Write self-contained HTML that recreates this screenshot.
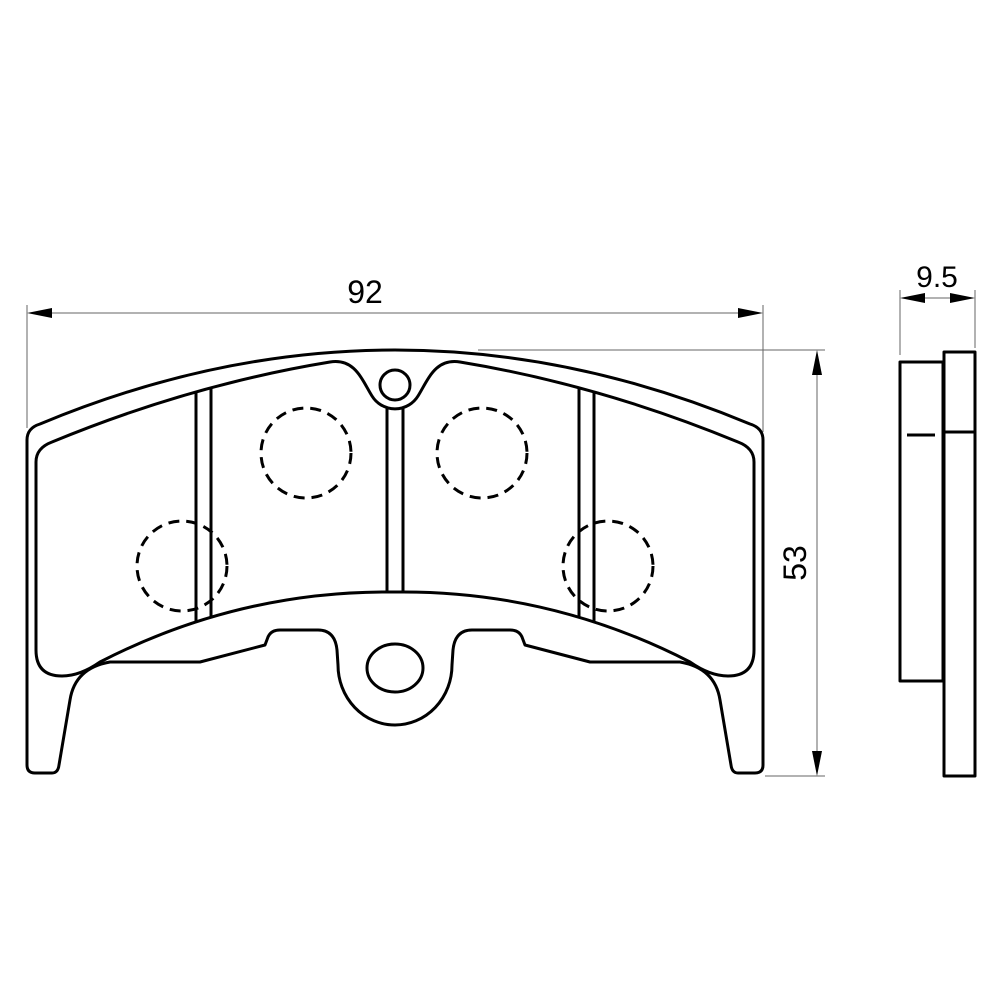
<!DOCTYPE html>
<html><head><style>html,body{margin:0;padding:0;background:#fff}</style></head>
<body>
<svg width="1000" height="1000" viewBox="0 0 1000 1000" xmlns="http://www.w3.org/2000/svg">
<defs>
<clipPath id="inn"><path d="M 36,462 Q 36,448 52,442 Q 190,385 330,362 C 355,358 362,380 372,396 A 27 27 0 0 0 418,396 C 428,380 435,358 460,362 Q 600,385 738,442 Q 754,448 754,462 L 754,650 Q 754,676 728,676 Q 710,676 690,662 Q 550,590 395,592 Q 240,590 100,662 Q 80,676 62,676 Q 36,676 36,650 Z"/></clipPath>
</defs>
<g fill="none" stroke="#000" stroke-width="3" stroke-linejoin="round">
<path d="M 27,440 Q 27,428 40,424 Q 395,276 750,424 Q 763,428 763,440 L 763,765 Q 763,773 755,773 L 738,773 Q 732,773 731,765 L 720,700 Q 715,668 680,662 L 590,662 L 525,645 L 522,637 Q 519,630 510,630 L 472,630 Q 455,630 453,650 L 452,665 A 57 60 0 0 1 338,665 L 337,650 Q 335,630 318,630 L 280,630 Q 271,630 268,637 L 265,645 L 200,662 L 110,662 Q 75,668 70,700 L 59,765 Q 58,773 52,773 L 35,773 Q 27,773 27,765 Z"/>
<path d="M 36,462 Q 36,448 52,442 Q 190,385 330,362 C 355,358 362,380 372,396 A 27 27 0 0 0 418,396 C 428,380 435,358 460,362 Q 600,385 738,442 Q 754,448 754,462 L 754,650 Q 754,676 728,676 Q 710,676 690,662 Q 550,590 395,592 Q 240,590 100,662 Q 80,676 62,676 Q 36,676 36,650 Z"/>
<circle cx="395" cy="385" r="15"/>
<g clip-path="url(#inn)">
<line x1="196" y1="360" x2="196" y2="640"/>
<line x1="211" y1="360" x2="211" y2="640"/>
<line x1="579" y1="360" x2="579" y2="640"/>
<line x1="594" y1="360" x2="594" y2="640"/>
<line x1="387" y1="400" x2="387" y2="600"/>
<line x1="403" y1="400" x2="403" y2="600"/>
</g>
<ellipse cx="395" cy="668" rx="28" ry="24"/>
<g stroke-dasharray="11,7">
<circle cx="306" cy="453" r="45"/>
<circle cx="482" cy="453" r="45"/>
<circle cx="182" cy="566" r="45"/>
<circle cx="608" cy="566" r="45"/>
</g>
<rect x="900" y="362" width="43" height="319"/>
<rect x="944" y="352" width="31" height="424"/>
<line x1="944" y1="432" x2="975" y2="432"/>
<line x1="907" y1="435" x2="935" y2="435"/>
</g>
<g stroke="#666" stroke-width="1" fill="none">
<line x1="27" y1="305" x2="27" y2="428"/>
<line x1="763" y1="305" x2="763" y2="432"/>
<line x1="30" y1="313" x2="760" y2="313"/>
<line x1="478" y1="350" x2="825" y2="350"/>
<line x1="765" y1="776" x2="825" y2="776"/>
<line x1="817" y1="353" x2="817" y2="773"/>
<line x1="900" y1="290" x2="900" y2="355"/>
<line x1="975" y1="290" x2="975" y2="348"/>
<line x1="902" y1="298" x2="973" y2="298"/>
</g>
<g fill="#000">
<polygon points="27,313 52,308 52,318"/>
<polygon points="763,313 738,308 738,318"/>
<polygon points="817,350 812,375 822,375"/>
<polygon points="817,776 812,751 822,751"/>
<polygon points="900,298 925,293 925,303"/>
<polygon points="975,298 950,293 950,303"/>
</g>
<g font-family="Liberation Sans, sans-serif" font-size="32" fill="#000" text-anchor="middle">
<text x="365" y="303">92</text>
<text x="937" y="287" font-size="30">9.5</text>
<text transform="translate(806,563) rotate(-90)">53</text>
</g>
</svg>
</body></html>
